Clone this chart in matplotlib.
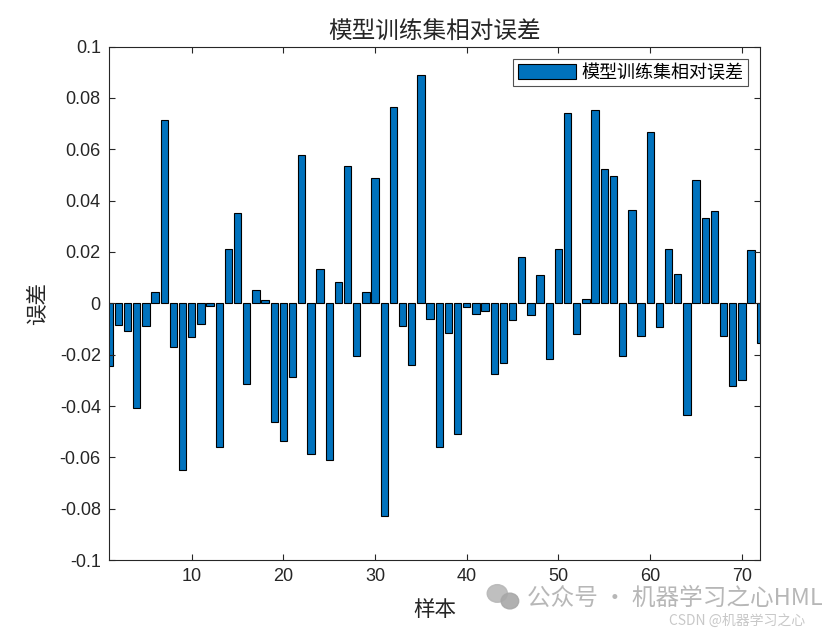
import numpy as np
import matplotlib.pyplot as plt
from matplotlib.patches import Ellipse

# 中文字体 + 英文字体
plt.rcParams['font.family'] = ['Liberation Sans', 'Noto Sans CJK SC', 'DejaVu Sans']
cjk = ['Noto Sans CJK SC', 'DejaVu Sans']

# 训练集相对误差 (72个样本)
sample_idx = np.arange(1, 73)
rel_err = [
    -0.0244, -0.0083, -0.0107, -0.0406, -0.0087, 0.0045, 0.0715, -0.0170, -0.0649, -0.0131,
    -0.0079, -0.0010, -0.0558, 0.0212, 0.0353, -0.0314, 0.0052, 0.0014, -0.0462, -0.0536,
    -0.0287, 0.0579, -0.0587, 0.0134, -0.0610, 0.0084, 0.0536, -0.0205, 0.0045, 0.0489,
    -0.0829, 0.0766, -0.0087, -0.0240, 0.0891, -0.0061, -0.0558, -0.0115, -0.0509, -0.0016,
    -0.0041, -0.0029, -0.0275, -0.0232, -0.0065, 0.0181, -0.0045, 0.0111, -0.0217, 0.0212,
    0.0742, -0.0119, 0.0018, 0.0754, 0.0524, 0.0497, -0.0205, 0.0364, -0.0127, 0.0668,
    -0.0092, 0.0212, 0.0115, -0.0435, 0.0481, 0.0333, 0.0360, -0.0127, -0.0322, -0.0297,
    0.0208, -0.0154,
]

y_ticks = np.round(np.arange(-0.1, 0.1001, 0.02), 2)
y_labels = ['-0.1', '-0.08', '-0.06', '-0.04', '-0.02', '0', '0.02', '0.04', '0.06', '0.08', '0.1']
x_ticks = [10, 20, 30, 40, 50, 60, 70]

fig = plt.figure(figsize=(8.4, 6.3), dpi=100)
ax = fig.add_axes([0.130, 0.111, 0.775, 0.815])

ax.bar(sample_idx, rel_err, width=0.8, color='#0072BD', edgecolor='black',
       linewidth=0.8, label='模型训练集相对误差')

ax.set_xlim(1, 72)
ax.set_ylim(-0.1, 0.1)
ax.set_xticks(x_ticks)
ax.set_yticks(y_ticks)
ax.set_yticklabels(y_labels)
ax.tick_params(direction='in', length=4, width=0.8, top=True, right=True,
               labelsize=13, pad=6, colors='#262626')
for s in ax.spines.values():
    s.set_linewidth(0.8)
    s.set_color('#262626')

ax.set_title('模型训练集相对误差', fontsize=17, family=cjk, fontweight='light',
             color='#262626', pad=6)
ax.set_xlabel('样本', fontsize=15.5, family=cjk, fontweight='light', color='#262626',
              labelpad=10)
ax.set_ylabel('误差', fontsize=15.5, family=cjk, fontweight='light', color='#262626',
              labelpad=8)

leg = ax.legend(loc='upper right', prop={'family': cjk, 'size': 13, 'weight': 'light'},
                fancybox=False, edgecolor='#262626', handlelength=3.2, handleheight=0.9,
                borderpad=0.25, handletextpad=0.3, borderaxespad=0.7)
leg.get_frame().set_linewidth(0.8)

# 水印
fig.patches.append(Ellipse((0.592, 0.058), 0.024, 0.028, transform=fig.transFigure,
                           color='#b8b8b8', alpha=0.9))
fig.patches.append(Ellipse((0.607, 0.046), 0.021, 0.025, transform=fig.transFigure,
                           color='#a8a8a8', alpha=0.9))
fig.text(0.627, 0.039, '公众号 · 机器学习之心HML', fontsize=17, family=cjk,
         color='#b0b0b0', alpha=0.9)
fig.text(0.797, 0.008, 'CSDN @机器学习之心', fontsize=10, family=cjk,
         color='#c8c8c8')

fig.savefig('out.png', dpi=100)
